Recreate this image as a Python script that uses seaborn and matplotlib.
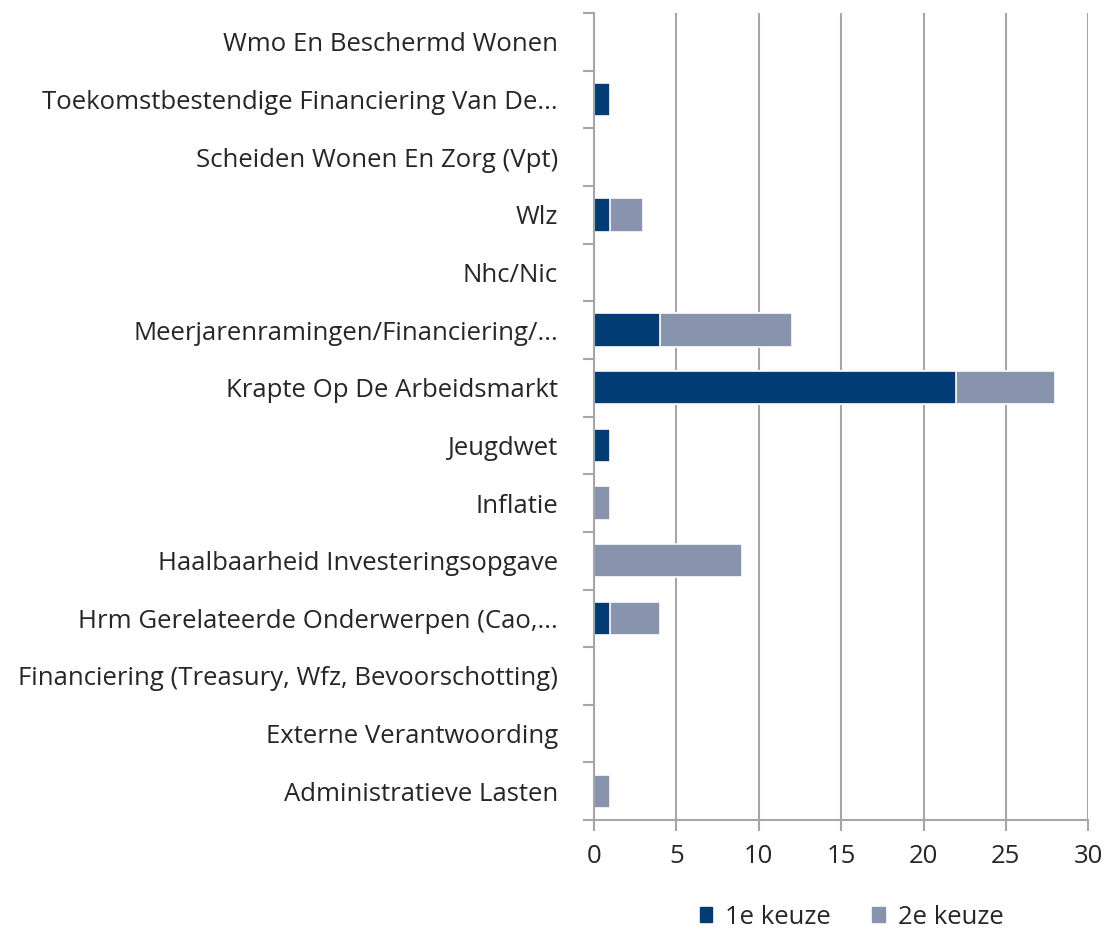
import numpy as np
import pandas as pd
import seaborn as sns
import matplotlib.pyplot as plt
from matplotlib.patches import Patch

categories = [
    "Wmo En Beschermd Wonen",
    "Toekomstbestendige Financiering Van De...",
    "Scheiden Wonen En Zorg (Vpt)",
    "Wlz",
    "Nhc/Nic",
    "Meerjarenramingen/Financiering/...",
    "Krapte Op De Arbeidsmarkt",
    "Jeugdwet",
    "Inflatie",
    "Haalbaarheid Investeringsopgave",
    "Hrm Gerelateerde Onderwerpen (Cao,...",
    "Financiering (Treasury, Wfz, Bevoorschotting)",
    "Externe Verantwoording",
    "Administratieve Lasten",
]
keuze1 = [0, 1, 0, 1, 0, 4, 22, 1, 0, 0, 1, 0, 0, 0]
keuze2 = [0, 0, 0, 2, 0, 8, 6, 0, 1, 9, 3, 0, 0, 1]
xticks = [0, 5, 10, 15, 20, 25, 30]

dark = "#033B75"
light = "#8893AE"
grid_c = "#A6A6A6"

sns.set_theme(style="white")
plt.rcParams["font.family"] = ["Open Sans", "DejaVu Sans"]

df = pd.DataFrame({"cat": categories, "k1": keuze1, "k2": keuze2})
df["total"] = df["k1"] + df["k2"]

fig = plt.figure(figsize=(11.06, 9.33), dpi=100)
ax = fig.add_axes([0.537, 0.121, 0.447, 0.865])

# stacked: full total in light, 1e keuze on top in dark
sns.barplot(data=df, x="total", y="cat", color=light, saturation=1,
            width=0.58, edgecolor="white", linewidth=1.2, ax=ax, zorder=3)
sns.barplot(data=df, x="k1", y="cat", color=dark, saturation=1,
            width=0.58, edgecolor="white", linewidth=1.2, ax=ax, zorder=4)

ax.set_xlim(0, 30)
ax.set_ylim(len(categories) - 0.5, -0.5)
ax.set_xticks(xticks)
ax.set_xticklabels([str(t) for t in xticks], fontsize=18.5)
ax.set_xlabel("")
ax.set_ylabel("")
ax.tick_params(axis="y", which="major", length=0, pad=26, labelsize=18.5)
ax.set_yticks(np.arange(-0.5, len(categories), 1.0), minor=True)
ax.tick_params(axis="y", which="minor", length=8, width=1.5, color=grid_c, left=True)
ax.tick_params(axis="x", which="major", length=8, width=1.5, color=grid_c,
               bottom=True, pad=9)

ax.grid(axis="x", color=grid_c, linewidth=1.5, zorder=0)
ax.grid(axis="y", visible=False)
ax.set_axisbelow(True)
for s in ["top", "right"]:
    ax.spines[s].set_visible(False)
for s in ["left", "bottom"]:
    ax.spines[s].set_color(grid_c)
    ax.spines[s].set_linewidth(1.5)
    ax.spines[s].set_zorder(5)

handles = [Patch(color=dark, label="1e keuze"), Patch(color=light, label="2e keuze")]
fig.legend(handles=handles, loc="center", bbox_to_anchor=(0.77, 0.017),
           ncol=2, frameon=False, fontsize=18.5, handlelength=0.5, handleheight=0.5,
           columnspacing=1.6, handletextpad=0.5)

fig.savefig("out.png", dpi=100)
